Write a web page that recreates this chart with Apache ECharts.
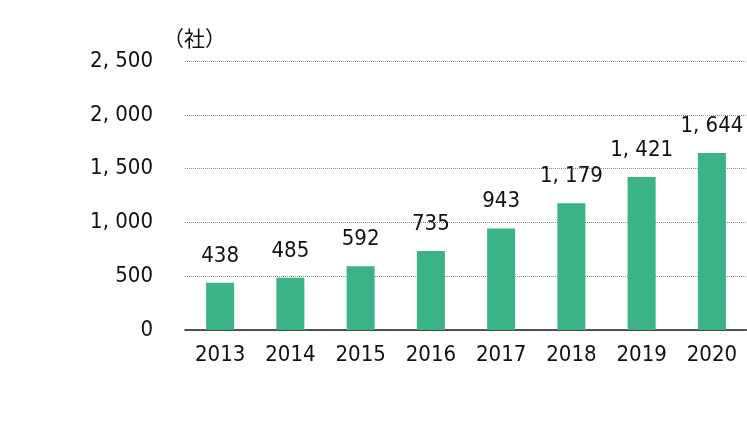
<!DOCTYPE html>
<html>
<head>
<meta charset="utf-8">
<script src="https://cdn.jsdelivr.net/npm/echarts@6/dist/echarts.min.js"></script>
<style>
    html, body { margin: 0; padding: 0; background: #fff; }
    #chart { width: 747px; height: 422px; }
</style>
</head>
<body>
<div id="chart"></div>
<script>
// Data
var years = ['2013', '2014', '2015', '2016', '2017', '2018', '2019', '2020'];
var companies = [438, 485, 592, 735, 943, 1179, 1421, 1644];
var unitLabel = '（社）';

// Styles
var fontFamily = '"DejaVu Sans Condensed", "Noto Sans CJK JP", sans-serif',
    labelColor = '#111',
    barColor = '#3ab387',
    gridColor = '#888';

// Number with wide comma, as in the picture
var fmt = function(v) {
    return String(v).replace(/\B(?=(\d{3})+(?!\d))/g, ', ');
};

var chart = echarts.init(document.getElementById('chart'));

chart.setOption({
    animation: false,
    textStyle: { fontFamily: fontFamily },
    grid: {
        left: 185,
        top: 61,
        width: 568,
        height: 269
    },
    graphic: [{
        type: 'text',
        left: 163,
        top: 28,
        style: {
            text: unitLabel, fontSize: 21, fill: labelColor,
            fontFamily: '"Noto Sans CJK JP", sans-serif'
        }
    }],
    xAxis: {
        type: 'category',
        data: years,
        axisTick: { show: false },
        axisLine: { lineStyle: { color: '#222', width: 1.5 } },
        axisLabel: { color: labelColor, fontSize: 22, margin: 14 }
    },
    yAxis: {
        type: 'value',
        min: 0,
        max: 2500,
        interval: 500,
        axisLine: { show: false },
        axisTick: { show: false },
        axisLabel: {
            color: labelColor,
            fontSize: 22,
            margin: 32,
            formatter: fmt
        },
        splitLine: {
            lineStyle: { color: gridColor, type: [1, 1], width: 1 }
        }
    },
    series: [{
        type: 'bar',
        data: companies,
        barWidth: 28,
        itemStyle: { color: barColor },
        label: {
            show: true,
            position: 'top',
            distance: 16,
            color: labelColor,
            fontSize: 22,
            formatter: function(p) { return fmt(p.value); }
        }
    }]
});
</script>
</body>
</html>
